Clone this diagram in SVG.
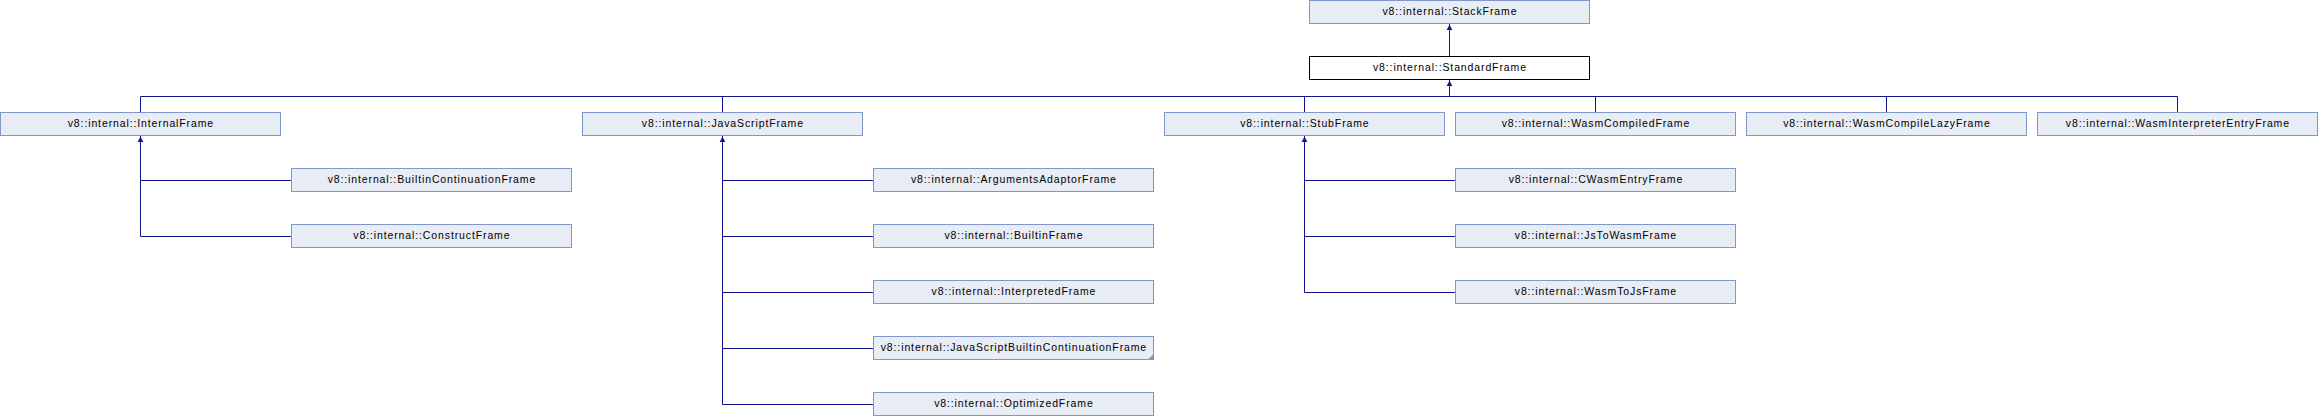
<svg xmlns="http://www.w3.org/2000/svg" xmlns:xlink="http://www.w3.org/1999/xlink" width="2318" height="416" viewBox="0 0 2318 416">
<style>
.n rect{fill:#e8ecf4;stroke:#7f97c9;stroke-width:1}
.n.cur rect{fill:#ffffff;stroke:#000000}
.n text{font-family:"Liberation Sans",Arial,Helvetica,sans-serif;font-size:10.5px;letter-spacing:0.88px;text-anchor:middle;fill:#000000}
.e path{fill:none;stroke:#12128c;stroke-width:1}
.e use{fill:#12128c}
.tri{fill:#7f97c9}
</style>
<defs>
<path id="ah" d="M0,1 L2.8,6.5 L-2.8,6.5 Z"/>
</defs>
<g id="edges" class="e">
<path d="M1449.5,56.5 V23.5"/>
<use xlink:href="#ah" href="#ah" x="1449.5" y="23.5"/>
<path d="M1449.5,96.5 V79.5"/>
<use xlink:href="#ah" href="#ah" x="1449.5" y="79.5"/>
<path d="M140.5,112.5 V96.5 H2177.5 V112.5"/>
<path d="M722.5,96.5 V112.5"/>
<path d="M1304.5,96.5 V112.5"/>
<path d="M1595.5,96.5 V112.5"/>
<path d="M1886.5,96.5 V112.5"/>
<path d="M140.5,135.5 V236.5 H291.5 M140.5,180.5 H291.5"/>
<use xlink:href="#ah" href="#ah" x="140.5" y="135.5"/>
<path d="M722.5,135.5 V404.5 H873.5 M722.5,180.5 H873.5 M722.5,236.5 H873.5 M722.5,292.5 H873.5 M722.5,348.5 H873.5"/>
<use xlink:href="#ah" href="#ah" x="722.5" y="135.5"/>
<path d="M1304.5,135.5 V292.5 H1455.5 M1304.5,180.5 H1455.5 M1304.5,236.5 H1455.5"/>
<use xlink:href="#ah" href="#ah" x="1304.5" y="135.5"/>
</g>
<g id="StackFrame" class="n"><rect x="1309.5" y="0.5" width="280" height="23"/><text x="1449.9" y="15">v8::internal::StackFrame</text></g>
<g id="StandardFrame" class="n cur"><rect x="1309.5" y="56.5" width="280" height="23"/><text x="1449.9" y="71">v8::internal::StandardFrame</text></g>
<g id="InternalFrame" class="n"><rect x="0.5" y="112.5" width="280" height="23"/><text x="140.9" y="127">v8::internal::InternalFrame</text></g>
<g id="JavaScriptFrame" class="n"><rect x="582.5" y="112.5" width="280" height="23"/><text x="722.9" y="127">v8::internal::JavaScriptFrame</text></g>
<g id="StubFrame" class="n"><rect x="1164.5" y="112.5" width="280" height="23"/><text x="1304.9" y="127">v8::internal::StubFrame</text></g>
<g id="WasmCompiledFrame" class="n"><rect x="1455.5" y="112.5" width="280" height="23"/><text x="1595.9" y="127">v8::internal::WasmCompiledFrame</text></g>
<g id="WasmCompileLazyFrame" class="n"><rect x="1746.5" y="112.5" width="280" height="23"/><text x="1886.9" y="127">v8::internal::WasmCompileLazyFrame</text></g>
<g id="WasmInterpreterEntryFrame" class="n"><rect x="2037.5" y="112.5" width="280" height="23"/><text x="2177.9" y="127">v8::internal::WasmInterpreterEntryFrame</text></g>
<g id="BuiltinContinuationFrame" class="n"><rect x="291.5" y="168.5" width="280" height="23"/><text x="431.9" y="183">v8::internal::BuiltinContinuationFrame</text></g>
<g id="ConstructFrame" class="n"><rect x="291.5" y="224.5" width="280" height="23"/><text x="431.9" y="239">v8::internal::ConstructFrame</text></g>
<g id="ArgumentsAdaptorFrame" class="n"><rect x="873.5" y="168.5" width="280" height="23"/><text x="1013.9" y="183">v8::internal::ArgumentsAdaptorFrame</text></g>
<g id="BuiltinFrame" class="n"><rect x="873.5" y="224.5" width="280" height="23"/><text x="1013.9" y="239">v8::internal::BuiltinFrame</text></g>
<g id="InterpretedFrame" class="n"><rect x="873.5" y="280.5" width="280" height="23"/><text x="1013.9" y="295">v8::internal::InterpretedFrame</text></g>
<g id="JavaScriptBuiltinContinuationFrame" class="n"><rect x="873.5" y="336.5" width="280" height="23"/><path class="tri" d="M1153.5,354 V359.5 H1148 Z"/><text x="1013.9" y="351">v8::internal::JavaScriptBuiltinContinuationFrame</text></g>
<g id="OptimizedFrame" class="n"><rect x="873.5" y="392.5" width="280" height="23"/><text x="1013.9" y="407">v8::internal::OptimizedFrame</text></g>
<g id="CWasmEntryFrame" class="n"><rect x="1455.5" y="168.5" width="280" height="23"/><text x="1595.9" y="183">v8::internal::CWasmEntryFrame</text></g>
<g id="JsToWasmFrame" class="n"><rect x="1455.5" y="224.5" width="280" height="23"/><text x="1595.9" y="239">v8::internal::JsToWasmFrame</text></g>
<g id="WasmToJsFrame" class="n"><rect x="1455.5" y="280.5" width="280" height="23"/><text x="1595.9" y="295">v8::internal::WasmToJsFrame</text></g>
</svg>
